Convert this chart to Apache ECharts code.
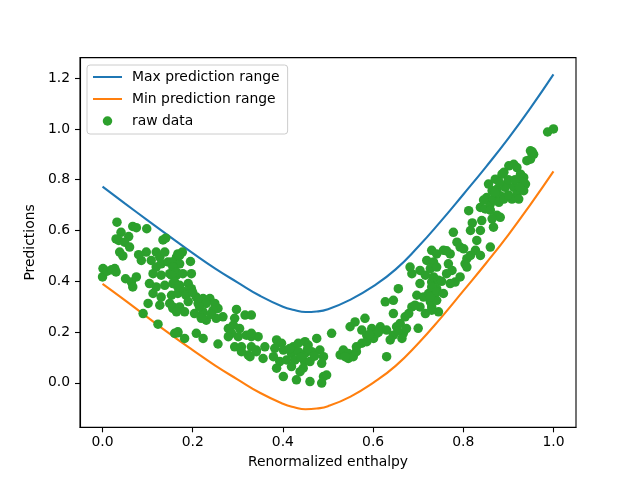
<!DOCTYPE html>
<html>
<head>
<meta charset="utf-8">
<script src="https://cdn.jsdelivr.net/npm/echarts@6/dist/echarts.min.js"></script>
<style>html,body{margin:0;padding:0;background:#fff}#c{width:640px;height:480px}</style>
</head>
<body>
<div id="c"></div>
<script>
// curve sample positions (renormalized enthalpy)
const curveX = [0.00,0.05,0.10,0.15,0.20,0.25,0.30,0.35,0.40,0.425,0.45,0.475,0.50,0.55,0.60,0.65,0.70,0.75,0.80,0.85,0.90,0.95,1.00];
const maxRange = [0.773,0.706,0.640,0.575,0.511,0.450,0.395,0.342,0.300,0.287,0.279,0.281,0.290,0.328,0.380,0.447,0.536,0.636,0.742,0.850,0.963,1.085,1.215];
const minRange = [0.390,0.325,0.258,0.192,0.129,0.068,0.013,-0.040,-0.082,-0.096,-0.104,-0.101,-0.092,-0.054,0.000,0.067,0.155,0.255,0.362,0.470,0.583,0.705,0.833];

// raw data points
const rawX = [0.032,0.041,0.036,0.030,0.067,0.075,0.098,0.058,0.049,0.060,0.038,0.134,0.001,0.000,0.027,0.051,0.064,0.075,0.067,0.086,0.097,0.119,0.108,0.127,0.138,0.119,0.130,0.145,0.156,0.164,0.112,0.130,0.149,0.164,0.104,0.119,0.138,0.156,0.167,0.112,0.130,0.153,0.167,0.101,0.127,0.149,0.156,0.090,0.123,0.167,0.167,0.171,0.010,0.020,0.030,0.045,0.080,0.140,
0.177,0.171,0.195,0.153,0.156,0.164,0.153,0.178,0.197,0.160,0.171,0.190,0.197,0.208,0.223,0.238,0.212,0.230,0.249,0.256,0.245,0.223,0.204,0.267,0.252,0.230,0.219,0.156,0.171,0.182,0.164,0.167,0.182,0.160,0.208,0.223,0.256,0.297,0.316,0.293,0.279,0.290,0.304,0.286,0.301,0.319,0.330,0.279,0.293,0.308,0.323,0.308,0.345,0.341,0.180,0.185,0.200,0.190,0.215,0.240,
0.330,0.330,0.341,0.360,0.327,0.356,0.386,0.397,0.382,0.401,0.379,0.393,0.408,0.386,0.401,0.430,0.460,0.490,0.497,0.486,0.423,0.434,0.449,0.456,0.419,0.434,0.449,0.464,0.427,0.448,0.460,0.445,0.438,0.419,0.475,0.508,0.482,0.490,0.486,0.527,0.534,0.545,0.549,0.330,0.440,0.415,0.470,0.455,
0.534,0.545,0.556,0.563,0.538,0.630,0.560,0.582,0.575,0.586,0.597,0.601,0.608,0.616,0.575,0.586,0.563,0.630,0.645,0.638,0.652,0.660,0.667,0.674,0.664,0.627,0.645,0.645,0.656,0.671,0.679,0.682,0.686,0.704,0.719,0.716,0.704,0.697,0.712,0.723,0.727,0.704,0.716,0.730,0.741,0.745,0.741,0.730,0.686,0.693,
0.730,0.741,0.734,0.727,0.741,0.734,0.745,0.730,0.741,0.756,0.727,0.730,0.756,0.771,0.778,0.786,0.793,0.767,0.775,0.763,0.782,0.771,0.793,0.801,0.808,0.804,0.816,0.827,0.808,0.816,0.812,0.830,0.838,0.841,0.838,0.860,0.882,0.838,0.849,0.860,0.852,0.864,0.856,0.871,0.875,0.867,0.882,0.879,0.890,0.897,0.890,0.901,0.912,0.919,0.927,0.934,0.938,0.912,0.919,0.908,0.923,0.934,0.886,0.893,0.949,0.956,0.949,0.941,0.875,0.864,0.867,0.987,1.000,0.752,0.763,0.820,0.900,0.930,
0.845,0.870,0.900,0.915,0.925,0.880,0.860,0.953,0.612,0.655,0.592,0.700];
const rawY = [0.633,0.593,0.561,0.567,0.616,0.611,0.607,0.576,0.554,0.535,0.515,0.563,0.450,0.417,0.450,0.410,0.397,0.417,0.378,0.482,0.515,0.515,0.482,0.495,0.515,0.456,0.469,0.476,0.463,0.495,0.430,0.424,0.430,0.424,0.391,0.378,0.384,0.391,0.378,0.352,0.338,0.345,0.352,0.313,0.306,0.313,0.293,0.273,0.231,0.197,0.508,0.469,0.440,0.445,0.437,0.500,0.505,0.570,
0.515,0.502,0.478,0.476,0.456,0.436,0.424,0.430,0.430,0.397,0.384,0.391,0.371,0.338,0.332,0.332,0.313,0.313,0.313,0.293,0.286,0.280,0.273,0.260,0.254,0.247,0.254,0.299,0.299,0.280,0.280,0.201,0.175,0.195,0.195,0.175,0.153,0.289,0.267,0.254,0.214,0.227,0.214,0.195,0.182,0.188,0.182,0.182,0.142,0.142,0.110,0.123,0.182,0.123,0.360,0.345,0.355,0.320,0.300,0.270,
0.195,0.142,0.129,0.142,0.103,0.096,0.169,0.156,0.136,0.129,0.103,0.084,0.090,0.058,0.025,0.012,0.005,0.025,0.031,-0.001,0.142,0.156,0.162,0.149,0.116,0.123,0.116,0.123,0.090,0.084,0.084,0.058,0.044,0.064,0.175,0.195,0.129,0.103,0.077,0.110,0.123,0.096,0.221,0.267,0.100,0.135,0.105,0.135,
0.129,0.116,0.103,0.123,0.103,0.103,0.240,0.254,0.208,0.188,0.214,0.175,0.195,0.221,0.156,0.162,0.142,0.208,0.188,0.169,0.221,0.234,0.195,0.214,0.175,0.319,0.325,0.273,0.371,0.260,0.273,0.456,0.430,0.443,0.482,0.424,0.391,0.345,0.338,0.352,0.319,0.299,0.273,0.299,0.325,0.280,0.371,0.397,0.299,0.306,
0.522,0.508,0.476,0.450,0.456,0.417,0.404,0.378,0.358,0.352,0.338,0.286,0.522,0.508,0.593,0.554,0.535,0.469,0.443,0.430,0.397,0.391,0.417,0.528,0.489,0.469,0.502,0.522,0.456,0.600,0.678,0.561,0.600,0.639,0.502,0.535,0.652,0.691,0.685,0.704,0.730,0.757,0.783,0.802,0.763,0.724,0.737,0.711,0.724,0.783,0.829,0.855,0.861,0.848,0.822,0.809,0.783,0.770,0.744,0.724,0.724,0.757,0.822,0.770,0.914,0.900,0.881,0.875,0.660,0.646,0.613,0.988,1.000,0.400,0.520,0.630,0.800,0.790,
0.720,0.750,0.740,0.800,0.770,0.790,0.680,0.910,0.200,0.205,0.190,0.215];

const xTicks = [0.0,0.2,0.4,0.6,0.8,1.0];
const yTicks = [0.0,0.2,0.4,0.6,0.8,1.0,1.2];

const maxData = curveX.map((x,i)=>[x,maxRange[i]]);
const minData = curveX.map((x,i)=>[x,minRange[i]]);
const rawData = rawX.map((x,i)=>[x,rawY[i]]);

const FONT = 'DejaVu Sans';
const FS = 13.9;
const hiddenMarker = {color:'rgba(0,0,0,0)',borderWidth:0,opacity:0};

const chart = echarts.init(document.getElementById('c'), null, {renderer:'canvas'});
chart.setOption({
  animation:false,
  backgroundColor:'#ffffff',
  textStyle:{fontFamily:FONT},
  grid:{left:80,right:64,top:57.6,bottom:52.7,show:true,borderColor:'#000',borderWidth:1.1,backgroundColor:'transparent'},
  legend:{
    orient:'vertical', left:87, top:65,
    itemWidth:29, itemHeight:9.5, itemGap:6,
    padding:[4,8,5,5],
    backgroundColor:'rgba(255,255,255,0.8)',
    borderColor:'#cccccc', borderWidth:1, borderRadius:3,
    textStyle:{fontFamily:FONT,fontSize:FS,color:'#000',lineHeight:16,padding:[0,0,0,5]},
    data:[
      {name:'Max prediction range',itemStyle:hiddenMarker},
      {name:'Min prediction range',itemStyle:hiddenMarker},
      {name:'raw data'}
    ]
  },
  xAxis:{
    type:'value', min:-0.05, max:1.05,
    name:'Renormalized enthalpy', nameLocation:'middle', nameGap:28,
    nameTextStyle:{fontFamily:FONT,fontSize:FS,color:'#000'},
    axisLine:{show:true,onZero:false,lineStyle:{color:'#000',width:1.1}},
    axisTick:{show:true,length:5,lineStyle:{color:'#000',width:1.1},customValues:xTicks},
    axisLabel:{fontFamily:FONT,fontSize:FS,color:'#000',margin:8,customValues:xTicks,formatter:v=>v.toFixed(1)},
    splitLine:{show:false}
  },
  yAxis:{
    type:'value', min:-0.175, max:1.281,
    name:'Predictions', nameLocation:'middle', nameGap:33,
    nameTextStyle:{fontFamily:FONT,fontSize:FS,color:'#000'},
    axisLine:{show:true,onZero:false,lineStyle:{color:'#000',width:1.1}},
    axisTick:{show:true,length:5,lineStyle:{color:'#000',width:1.1},customValues:yTicks},
    axisLabel:{fontFamily:FONT,fontSize:FS,color:'#000',margin:10,customValues:yTicks,formatter:v=>v.toFixed(1)},
    splitLine:{show:false}
  },
  series:[
    {name:'Max prediction range',type:'line',data:maxData,smooth:0.5,symbol:'none',showSymbol:false,
     lineStyle:{color:'#1f77b4',width:2.1},itemStyle:{color:'#1f77b4'},z:2},
    {name:'Min prediction range',type:'line',data:minData,smooth:0.5,symbol:'none',showSymbol:false,
     lineStyle:{color:'#ff7f0e',width:2.1},itemStyle:{color:'#ff7f0e'},z:2},
    {name:'raw data',type:'scatter',data:rawData,symbol:'circle',symbolSize:9.5,
     itemStyle:{color:'#2ca02c',opacity:1},z:3}
  ]
});
</script>
</body>
</html>
